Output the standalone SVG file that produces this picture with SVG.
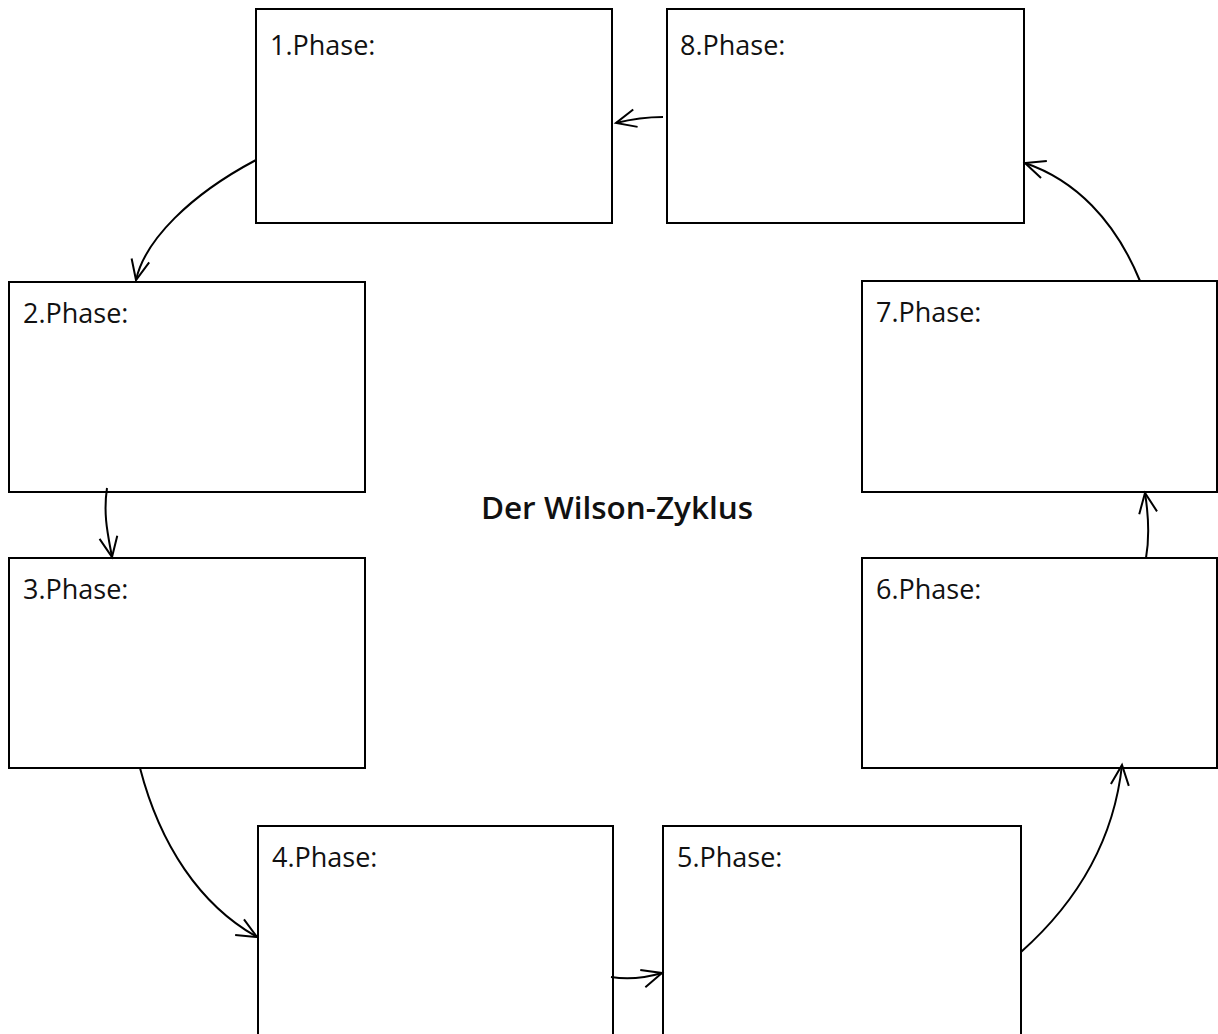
<svg xmlns="http://www.w3.org/2000/svg" width="1218" height="1034" viewBox="0 0 1218 1034">
<style>
.box{fill:#fff;stroke:#000;stroke-width:2}
.lbl{font-family:"Open Sans","Noto Sans",sans-serif;font-size:27px;fill:#111}
.title{font-family:"Open Sans","Noto Sans",sans-serif;font-size:31.5px;font-weight:600;fill:#111}
.con{fill:none;stroke:#000;stroke-width:2;marker-end:url(#ah)}
</style>
<defs>
<marker id="ah" markerWidth="26" markerHeight="26" refX="22" refY="13" orient="auto" markerUnits="userSpaceOnUse" overflow="visible">
<path d="M2,4 L22,13 L2,22" fill="none" stroke="#000" stroke-width="2"/>
</marker>
</defs>
<g id="node1"><rect class="box" x="256" y="9" width="356" height="214"/><text class="lbl" x="270" y="55">1.Phase:</text></g>
<g id="node8"><rect class="box" x="667" y="9" width="357" height="214"/><text class="lbl" x="680" y="55">8.Phase:</text></g>
<g id="node2"><rect class="box" x="9" y="282" width="356" height="210"/><text class="lbl" x="23" y="323">2.Phase:</text></g>
<g id="node7"><rect class="box" x="862" y="281" width="355" height="211"/><text class="lbl" x="876" y="322">7.Phase:</text></g>
<g id="node3"><rect class="box" x="9" y="558" width="356" height="210"/><text class="lbl" x="23" y="599">3.Phase:</text></g>
<g id="node6"><rect class="box" x="862" y="558" width="355" height="210"/><text class="lbl" x="876" y="599">6.Phase:</text></g>
<g id="node4"><rect class="box" x="258" y="826" width="355" height="220"/><text class="lbl" x="272" y="867">4.Phase:</text></g>
<g id="node5"><rect class="box" x="663" y="826" width="358" height="220"/><text class="lbl" x="677" y="867">5.Phase:</text></g>
<text class="title" x="617" y="519" text-anchor="middle">Der Wilson-Zyklus</text>
<g id="connectors">
<path class="con" d="M663,117 Q640,117 616,123"/>
<path class="con" d="M256,160 C190,195 145,240 136,280"/>
<path class="con" d="M107,488 C103,515 108,535 112,557"/>
<path class="con" d="M140,768 C160,845 200,905 257,937"/>
<path class="con" d="M611,977 C630,980 645,978 662,973"/>
<path class="con" d="M1021,952 C1085,895 1115,830 1122,765"/>
<path class="con" d="M1146,558 C1150,535 1148,512 1145,493"/>
<path class="con" d="M1140,281 C1115,220 1075,180 1025,163"/>
</g>
</svg>
